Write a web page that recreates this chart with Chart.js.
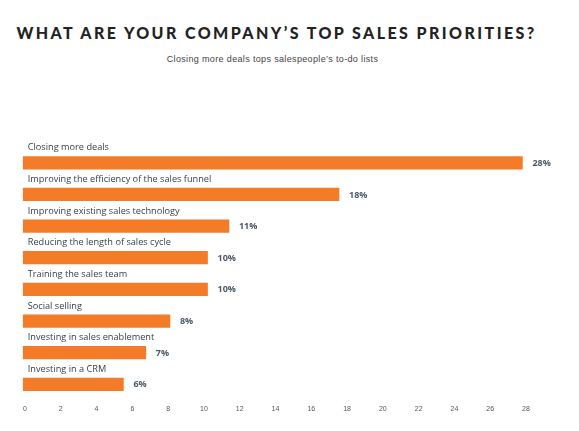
<!DOCTYPE html>
<html>
<head>
<meta charset="utf-8">
<script src="https://cdn.jsdelivr.net/npm/chart.js@4.4.1/dist/chart.umd.min.js"></script>
<style>
  html, body { margin: 0; padding: 0; background: #ffffff; }
  #wrap { position: relative; width: 579px; height: 431px; overflow: hidden; background: #fff; }
  #title { position: absolute; left: 0; width: 553px; top: 21.5px; text-align: center;
           font-family: "Lato", sans-serif; font-weight: 900; font-size: 16px;
           letter-spacing: 2.42px; color: #222222; white-space: nowrap; line-height: 22px; }
  #subtitle { position: absolute; left: 0; width: 545px; top: 52px; text-align: center;
              font-family: "Liberation Sans", Arial, sans-serif; font-size: 9px;
              letter-spacing: 0.35px; color: #444444; white-space: nowrap; line-height: 14px; }
  canvas { position: absolute; left: 0; top: 0; }
</style>
</head>
<body>
<div id="wrap">
  <div id="title">WHAT ARE YOUR COMPANY’S TOP SALES PRIORITIES?</div>
  <div id="subtitle">Closing more deals tops salespeople’s to-do lists</div>
  <canvas id="c" width="579" height="431"></canvas>
</div>
<script>
const categories = [
  "Closing more deals",
  "Improving the efficiency of the sales funnel",
  "Improving existing sales technology",
  "Reducing the length of sales cycle",
  "Training the sales team",
  "Social selling",
  "Investing in sales enablement",
  "Investing in a CRM"
];
const values = [27.8, 17.55, 11.4, 10.2, 10.2, 8.1, 6.75, 5.5];
const valueLabels = ["28%", "18%", "11%", "10%", "10%", "8%", "7%", "6%"];
const tickMin = 0;
const tickMax = 28;
const tickStep = 2;

const labelPlugin = {
  id: 'barLabels',
  afterDatasetsDraw(chart) {
    const ctx = chart.ctx;
    const meta = chart.getDatasetMeta(0);
    ctx.save();
    meta.data.forEach((bar, i) => {
      const left = Math.min(bar.base, bar.x);
      ctx.font = '400 9.2px "Open Sans", sans-serif';
      ctx.fillStyle = '#333f4b';
      ctx.textAlign = 'left';
      ctx.textBaseline = 'middle';
      ctx.fillText(categories[i], left + 4.5, bar.y - 15);
      ctx.font = '700 9px "Open Sans", sans-serif';
      ctx.fillStyle = '#4b5866';
      ctx.fillText(valueLabels[i], bar.x + 10, bar.y + 0.5);
    });
    ctx.restore();
  }
};

new Chart(document.getElementById('c'), {
  type: 'bar',
  data: {
    labels: categories,
    datasets: [{
      data: values,
      backgroundColor: '#f47b27',
      borderWidth: 0,
      barThickness: 12.6,
      base: -0.1,
      clip: false
    }]
  },
  options: {
    indexAxis: 'y',
    responsive: false,
    animation: false,
    devicePixelRatio: 1,
    layout: { padding: { left: 25, right: 53, top: 147, bottom: 12.5 } },
    scales: {
      x: {
        type: 'linear',
        min: tickMin,
        max: tickMax,
        grid: { display: false, drawTicks: false },
        border: { display: false },
        ticks: {
          stepSize: tickStep,
          padding: 5,
          color: '#555555',
          font: { family: '"Liberation Sans", Arial, sans-serif', size: 7 },
          maxRotation: 0,
          autoSkip: false
        }
      },
      y: { display: false }
    },
    plugins: {
      legend: { display: false },
      tooltip: { enabled: false },
      title: { display: false }
    }
  },
  plugins: [labelPlugin]
});
</script>
</body>
</html>
